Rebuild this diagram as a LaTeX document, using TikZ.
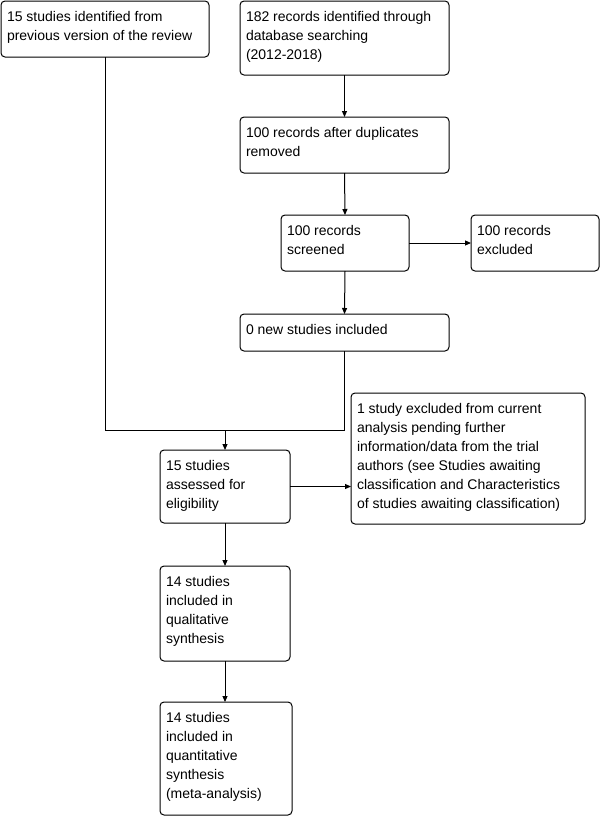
\documentclass[tikz,border=0pt]{standalone}
\usepackage{fontspec}
\setmainfont{Liberation Sans}
\usetikzlibrary{arrows.meta,calc}
\tikzset{
  box/.style={draw=black,line width=1pt,rounded corners=4pt,inner sep=0pt,outer sep=0pt,anchor=north west},
  txt/.style={inner sep=0pt,outer sep=0pt,anchor=base west,font=\fontsize{14}{19}\selectfont},
  conn/.style={line width=1pt,draw=black},
  arr/.style={conn,-{Triangle[length=6pt,width=5pt]}}
}
\newcommand{\flowbox}[6]{%
  \node[box,minimum width=#4pt-#2pt,minimum height=#5pt-#3pt] (#1) at (#2,#3) {};
  \node[txt] (#1t) at ($(#1.north west)+(6,20)$) {\parbox[t]{300pt}{\raggedright #6}};
}
\begin{document}
\begin{tikzpicture}[x=1pt,y=-1pt]
\useasboundingbox (0,0) rectangle (602,817);
\flowbox{A}{1}{1}{209}{57}{15 studies identified from\\previous version of the review}
\flowbox{B}{240}{1}{449}{75}{182 records identified through\\database searching\\(2012-2018)}
\flowbox{C}{240}{117}{449}{173}{100 records after duplicates\\removed}
\flowbox{D}{281}{215}{409}{271}{100 records\\screened}
\flowbox{E}{471}{215}{599}{271}{100 records\\excluded}
\flowbox{F}{240}{314}{449}{351}{0 new studies included}
\flowbox{G}{160}{450}{290}{523}{15 studies\\assessed for\\eligibility}
\flowbox{H}{351}{393}{585}{524}{1 study excluded from current\\analysis pending further\\information/data from the trial\\authors (see Studies awaiting\\classification and Characteristics\\of studies awaiting classification)}
\flowbox{I}{160}{566}{290}{661}{14 studies\\included in\\qualitative\\synthesis}
\flowbox{J}{160}{702}{292}{815}{14 studies\\included in\\quantitative\\synthesis\\(meta-analysis)}
\coordinate (j) at (225,430);
\draw[arr] (B.south) -- (C.north);
\draw[arr] (C.south) -- (D.north);
\draw[arr] (D.east) -- (E.west);
\draw[arr] (D.south) -- (F.north);
\draw[conn] (F.south) |- (A.south |- j) -- (A.south);
\draw[arr] (j) -- (G.north);
\draw[arr] (G.east) -- (H.west |- G.east);
\draw[arr] (G.south) -- (I.north);
\draw[arr] (I.south) -- (I.south |- J.north);
\end{tikzpicture}
\end{document}
